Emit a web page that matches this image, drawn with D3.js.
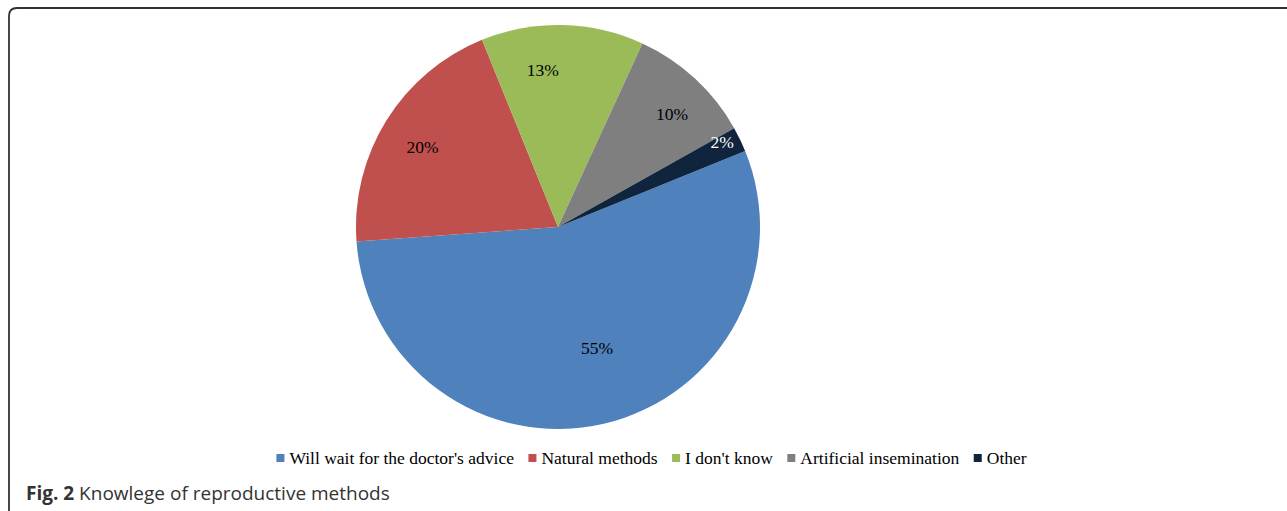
<!DOCTYPE html>
<html>
<head>
<meta charset="utf-8">
<script src="https://cdn.jsdelivr.net/npm/d3@7"></script>
<style>
	body{ margin: 0; background: #fff; }
	.slice-label{ font-family: "Liberation Serif", "Times New Roman", serif; font-size: 17.5px; }
	.legend text{ font-family: "Liberation Serif", "Times New Roman", serif; font-size: 17.5px; fill: #000; }
	.caption{ font-family: "Open Sans", "Noto Sans", sans-serif; font-size: 19px; fill: #333; }
</style>
</head>
<body>
<div id="chart"></div>
<script>
	// data
	const categories = ["Will wait for the doctor's advice", "Natural methods", "I don't know", "Artificial insemination", "Other"];
	const values = [55, 20, 13, 10, 2];
	const labels = ["55%", "20%", "13%", "10%", "2%"];
	const colors = ["#4f81bd", "#c0504d", "#9bbb59", "#7f7f7f", "#10243e"];
	const labelColors = ["#000", "#000", "#000", "#000", "#fff"];

	const W = 1287, H = 511;
	const svg = d3.select("#chart").append("svg").attr("width", W).attr("height", H);

	// frame (figure box, open to the right)
	svg.append("path")
		.attr("d", "M9,515 L9,16 Q9,8 17,8 L1295,8")
		.attr("fill", "none").attr("stroke", "#333").attr("stroke-width", 1.8);

	const cx = 558, cy = 227, R = 202;
	const data = categories.map((c, i) => ({name: c, value: values[i], label: labels[i], i: i}));

	const startAngle = 67.9 * Math.PI / 180;
	const pie = d3.pie().value(d => d.value).sort(null)
		.startAngle(startAngle).endAngle(startAngle + 2 * Math.PI);
	const arc = d3.arc().innerRadius(0).outerRadius(R);
	const arcs = pie(data);

	const g = svg.append("g").attr("transform", `translate(${cx},${cy})`);
	g.selectAll("path.slice").data(arcs).enter().append("path")
		.attr("class", "slice")
		.attr("d", arc)
		.attr("fill", d => colors[d.data.i]);

	// label placement: radius as fraction of R and angle nudge (deg) from slice middle
	const labelR = [0.63, 0.78, 0.78, 0.795, 0.915];
	const labelNudge = [-4.8, -1.2, -6.8, 2.6, -1.7];
	g.selectAll("text.slice-label").data(arcs).enter().append("text")
		.attr("class", "slice-label")
		.attr("transform", d => {
			const r = R * labelR[d.data.i];
			const a = (d.startAngle + d.endAngle) / 2 + labelNudge[d.data.i] * Math.PI / 180;
			return `translate(${r * Math.sin(a)},${-r * Math.cos(a)})`;
		})
		.attr("text-anchor", "middle")
		.attr("dominant-baseline", "central")
		.attr("fill", d => labelColors[d.data.i])
		.text(d => d.data.label);

	// legend, laid out by measured text width and centred
	const legend = svg.append("g").attr("class", "legend");
	const ly = 458, sq = 8, gapText = 5, gapItem = 14.5;
	const items = legend.selectAll("g").data(data).enter().append("g");
	items.append("rect").attr("width", sq).attr("height", sq).attr("y", -sq / 2)
		.attr("fill", d => colors[d.i]);
	items.append("text").attr("x", sq + gapText).attr("dominant-baseline", "central")
		.text(d => d.name);
	let x = 0;
	const offsets = [];
	items.each(function(d){
		offsets.push(x);
		x += sq + gapText + this.querySelector("text").getComputedTextLength() + gapItem;
	});
	const total = x - gapItem;
	const lx0 = 651.5 - total / 2;
	items.attr("transform", (d, i) => `translate(${lx0 + offsets[i]},${ly})`);

	// caption
	const cap = svg.append("text").attr("class", "caption").attr("x", 26).attr("y", 500);
	cap.append("tspan").attr("font-weight", "bold").text("Fig. 2");
	cap.append("tspan").text(" Knowlege of reproductive methods");
</script>
</body>
</html>
